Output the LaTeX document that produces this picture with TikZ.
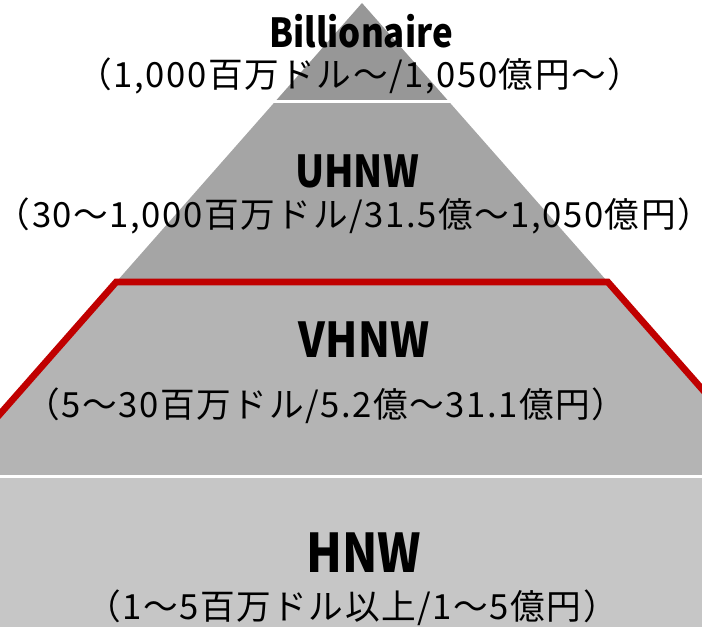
\documentclass[tikz,border=0pt]{standalone}
\usepackage{fontspec}
\usepackage{tikz}
\setmainfont{Noto Sans CJK JP}
\newfontfamily\jpfont[FakeStretch=0.87]{Noto Sans CJK JP}
\newfontfamily\jpsubfont[LetterSpace=4.5]{Noto Sans CJK JP}
\definecolor{tierA}{RGB}{151,151,151}
\definecolor{tierB}{RGB}{165,165,165}
\definecolor{tierC}{RGB}{180,180,180}
\definecolor{tierD}{RGB}{198,198,198}
\definecolor{redline}{RGB}{192,0,0}
\tikzset{
  tierlabel/.style={font=\jpfont\bfseries\fontsize{#1}{#1}\selectfont, inner sep=0pt},
  rangetext/.style={font=\jpsubfont\fontsize{26}{26}\selectfont, inner sep=0pt}
}

\begin{document}
\begin{tikzpicture}[x=0.75pt, y=-0.75pt]
			%%%%% START %%%%%
			
			\useasboundingbox (0, 0) rectangle (702, 627);
			\clip (0, 0) rectangle (702, 627);
			
			\fill[tierA] (362, 3) -- (275.2, 101.5) -- (448.8, 101.5) -- cycle;
			\fill[tierB] (275.2, 101.5) -- (448.8, 101.5) -- (607.8, 282) -- (116.2, 282) -- cycle;
			\fill[tierC] (116.2, 282) -- (607.8, 282) -- (779, 476.5) -- (-55, 476.5) -- cycle;
			\fill[tierD] (-60, 476.5) rectangle (780, 640);
			
			\draw[line width=2pt, color=white] (270, 101.5) -- (454, 101.5);
			\draw[line width=2pt, color=white] (-60, 476.5) -- (780, 476.5);
			
			\draw[line width=5pt, color=redline, line join=miter] (-55, 476.5) -- (116.2, 282) -- (607.8, 282) -- (779, 476.5);
			
			\node[tierlabel=30] (bil) at (361, 31) {Billionaire};
			\node[rangetext] (bilsub) at (360, 76) {\kern-0.5em（1,000百万ドル〜/1,050億円〜）\kern-0.5em};
			
			\node[tierlabel=33] (uhnw) at (357, 171) {UHNW};
			\node[rangetext] (uhnwsub) at (354, 216) {\kern-0.5em（30〜1,000百万ドル/31.5億〜1,050億円）\kern-0.5em};
			
			\node[tierlabel=36] (vhnw) at (364, 340) {VHNW};
			\node[rangetext] (vhnwsub) at (326, 406) {\kern-0.5em（5〜30百万ドル/5.2億〜31.1億円）\kern-0.5em};
			
			\node[tierlabel=40] (hnw) at (364, 553) {HNW};
			\node[rangetext] (hnwsub) at (352, 608) {\kern-0.5em（1〜5百万ドル以上/1〜5億円）\kern-0.5em};
			
			%%%%% END %%%%%
\end{tikzpicture}
\end{document}
